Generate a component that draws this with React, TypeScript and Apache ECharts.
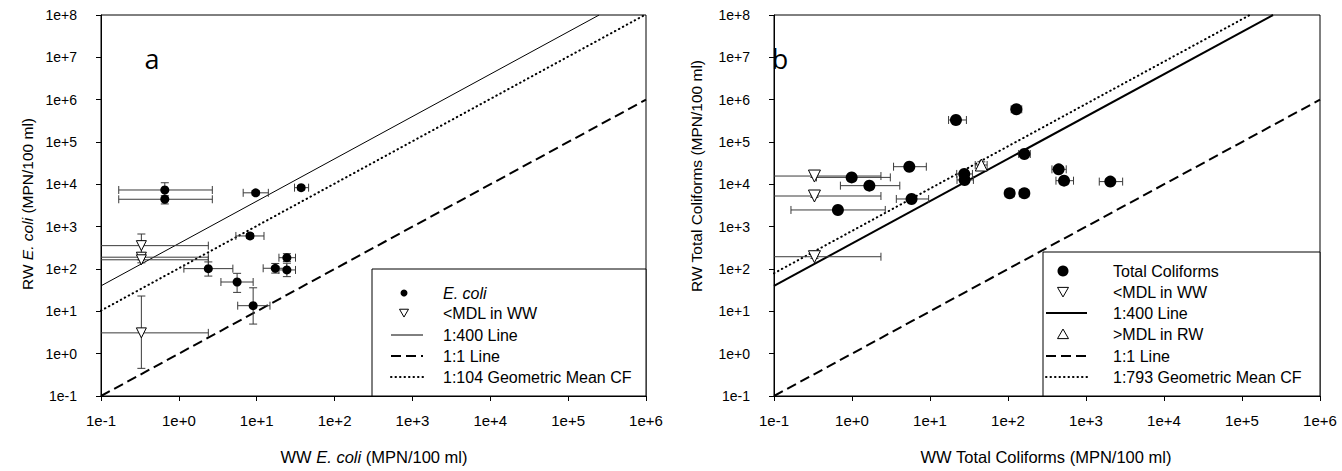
import { useEffect, useRef } from "react";
import * as echarts from "echarts";

// Axis ranges (log10 scale, one tick per decade)
const X_MIN = 0.1;
const X_MAX = 1e6;
const Y_MIN = 0.1;
const Y_MAX = 1e8;

// Rows: [WW, RW, WW low, WW high, RW low, RW high]  (MPN/100 ml)
const ecoliPoints: number[][] = [
  [0.66, 7350, 0.169, 2.69, 5000, 10900],
  [0.66, 4440, 0.169, 2.69, 3440, 5400],
  [9.7, 6300, 6.7, 14.1, 5600, 7000],
  [37.2, 8340, 30.6, 46.4, 7400, 9400],
  [8.2, 603, 5.4, 12.4, 530, 690],
  [2.39, 102, 1.16, 4.94, 68, 147],
  [5.6, 49.3, 3.47, 9.0, 28, 79],
  [9.0, 13.6, 5.7, 14.8, 5.0, 36],
  [17.3, 104, 12.1, 24.2, 80, 135],
  [24.4, 185, 19.3, 31.5, 150, 230],
  [24.4, 95, 19.3, 31.5, 66, 137],
];

const ecoliBelowMdl: number[][] = [
  [0.33, 356, 0.02, 2.39, 190, 671],
  [0.33, 190, 0.02, 2.39, 165, 215],
  [0.33, 165, 0.02, 2.39, 140, 190],
  [0.33, 3.1, 0.02, 2.39, 0.45, 23],
];

const tcPoints: number[][] = [
  [21.5, 331000, 17.3, 29.3, 300000, 365000],
  [128, 593000, 110, 150, 540000, 650000],
  [5.43, 26100, 3.41, 8.97, 23500, 29000],
  [0.99, 14600, 0.35, 3.1, 13200, 16200],
  [1.67, 9300, 0.71, 4.1, 8400, 10300],
  [5.8, 4510, 3.7, 9.6, 4100, 5000],
  [0.66, 2480, 0.165, 2.67, 2250, 2750],
  [162, 52100, 137, 193, 47000, 57500],
  [27.5, 17600, 22, 35, 16000, 19400],
  [27.8, 12700, 22.2, 36, 11500, 14000],
  [105, 6140, 92, 120, 5600, 6750],
  [162, 6140, 140, 185, 5600, 6750],
  [446, 22600, 366, 558, 20500, 24900],
  [523, 12200, 412, 692, 11000, 13400],
  [2050, 11600, 1480, 2950, 10500, 12800],
];

const tcBelowMdl: number[][] = [
  [0.33, 15700, 0.02, 2.35, 14500, 17000],
  [0.33, 5300, 0.02, 2.35, 4900, 5700],
  [0.33, 195, 0.02, 2.35, 178, 214],
];

const tcAboveMdl: number[][] = [[45.5, 28600, 38, 54, 24000, 34000]];

// RW : WW ratios of the reference lines
const ratioA = { r400: 400, r1: 1, gm: 104 };
const ratioB = { r400: 400, r1: 1, gm: 793 };

const legendA = ["E. coli", "<MDL in WW", "1:400 Line", "1:1 Line", "1:104 Geometric Mean CF"];
const legendB = [
  "Total Coliforms",
  "<MDL in WW",
  "1:400 Line",
  ">MDL in RW",
  "1:1 Line",
  "1:793 Geometric Mean CF",
];

const FONT = "Liberation Sans, Arial, sans-serif";

const refLine = (r: number) => {
  const x1 = Math.min(X_MAX, Y_MAX / r);
  return [
    [X_MIN, X_MIN * r],
    [x1, x1 * r],
  ];
};

const expLabel = (v: number) => {
  const e = Math.round(Math.log10(v));
  return e < 0 ? `1e${e}` : `1e+${e}`;
};

const errorBarRender = (params: any, api: any) => {
  const cs = params.coordSys;
  const x = api.value(0);
  const y = api.value(1);
  const c = api.coord([x, y]);
  const l = api.coord([api.value(2), y]);
  const r = api.coord([api.value(3), y]);
  const t = api.coord([x, api.value(5)]);
  const b = api.coord([x, api.value(4)]);
  const cap = 4;
  const style = { stroke: "#3a3a3a", lineWidth: 1 };
  const children: any[] = [];
  const left = Math.max(l[0], cs.x);
  const right = Math.min(r[0], cs.x + cs.width);
  children.push({ type: "line", shape: { x1: left, y1: c[1], x2: right, y2: c[1] }, style });
  if (l[0] >= cs.x) children.push({ type: "line", shape: { x1: l[0], y1: c[1] - cap, x2: l[0], y2: c[1] + cap }, style });
  if (r[0] <= cs.x + cs.width) children.push({ type: "line", shape: { x1: r[0], y1: c[1] - cap, x2: r[0], y2: c[1] + cap }, style });
  children.push({ type: "line", shape: { x1: c[0], y1: t[1], x2: c[0], y2: b[1] }, style });
  children.push({ type: "line", shape: { x1: c[0] - cap, y1: t[1], x2: c[0] + cap, y2: t[1] }, style });
  children.push({ type: "line", shape: { x1: c[0] - cap, y1: b[1], x2: c[0] + cap, y2: b[1] }, style });
  return { type: "group", children };
};

const makeAxis = (gridIndex: number, min: number, max: number, margin: number, fontSize: number) => ({
  type: "log",
  logBase: 10,
  gridIndex,
  min,
  max,
  interval: 1,
  axisLine: { show: true, lineStyle: { color: "#000", width: 1 } },
  axisTick: { show: true, inside: false, length: 5, lineStyle: { color: "#000" } },
  splitLine: { show: false },
  axisLabel: {
    show: true,
    color: "#000",
    fontFamily: FONT,
    fontSize,
    margin,
    formatter: expLabel,
  },
});

const dotted = { type: [0.5, 4] as any, width: 2, color: "#000", cap: "round" as const };
const dashed = { type: [10, 5] as any, width: 2, color: "#000" };

function buildLegend(
  box: { x: number; y: number; w: number; h: number },
  symX: number,
  lineX: [number, number],
  textX: number,
  rows: number[],
  labels: string[],
  kinds: string[],
  dotR: number,
  tri: number,
  solidW: number
) {
  const els: any[] = [
    {
      type: "rect",
      shape: { x: box.x, y: box.y, width: box.w, height: box.h },
      style: { fill: "#fff", stroke: "#000", lineWidth: 1 },
      z: 10,
    },
  ];
  kinds.forEach((k, i) => {
    const y = rows[i];
    if (k === "dot") {
      els.push({ type: "circle", shape: { cx: symX, cy: y, r: dotR }, style: { fill: "#000" }, z: 11 });
    } else if (k === "down") {
      els.push({
        type: "polygon",
        shape: { points: [[symX - tri / 2, y - tri * 0.42], [symX + tri / 2, y - tri * 0.42], [symX, y + tri * 0.45]] },
        style: { fill: "#fff", stroke: "#000", lineWidth: 1 },
        z: 11,
      });
    } else if (k === "up") {
      els.push({
        type: "polygon",
        shape: { points: [[symX - tri / 2, y + tri * 0.42], [symX + tri / 2, y + tri * 0.42], [symX, y - tri * 0.45]] },
        style: { fill: "#fff", stroke: "#000", lineWidth: 1 },
        z: 11,
      });
    } else {
      const style: any = { stroke: "#000", lineWidth: k === "solid" ? solidW : 2 };
      if (k === "dash") style.lineDash = [10, 5];
      if (k === "dot2") {
        style.lineDash = [0.5, 4];
        style.lineCap = "round";
      }
      els.push({ type: "line", shape: { x1: lineX[0], y1: y, x2: lineX[1], y2: y }, style, z: 11 });
    }
    const italic = labels[i] === "E. coli";
    els.push({
      type: "text",
      x: textX,
      y,
      style: {
        text: labels[i],
        fill: "#000",
        font: `${italic ? "italic " : ""}16px ${FONT}`,
        textVerticalAlign: "middle",
        textAlign: "left",
      },
      z: 11,
    });
  });
  return els;
}

export default function App() {
  const ref = useRef<HTMLDivElement>(null);

  useEffect(() => {
    if (!ref.current) return;
    const chart = echarts.init(ref.current, undefined, { renderer: "svg" });

    const gridA = { left: 101, top: 15, width: 545, height: 381 };
    const gridB = { left: 774, top: 15, width: 546, height: 381 };

    const richOf = (size: number) => ({
      n: { fontFamily: FONT, fontSize: size, fill: "#000", color: "#000" },
      i: { fontFamily: FONT, fontSize: size, fontStyle: "italic", fill: "#000", color: "#000" },
    });

    const option: any = {
      animation: false,
      backgroundColor: "#fff",
      grid: [
        { ...gridA, show: true, borderColor: "#000", borderWidth: 1 },
        { ...gridB, show: true, borderColor: "#000", borderWidth: 1 },
      ],
      xAxis: [makeAxis(0, X_MIN, X_MAX, 17, 15), makeAxis(1, X_MIN, X_MAX, 17, 15)],
      yAxis: [makeAxis(0, Y_MIN, Y_MAX, 24, 14), makeAxis(1, Y_MIN, Y_MAX, 24, 14)],
      series: [
        // Panel a reference lines
        { type: "line", xAxisIndex: 0, yAxisIndex: 0, data: refLine(ratioA.r400), symbol: "none", lineStyle: { color: "#000", width: 1 }, z: 1, clip: true },
        { type: "line", xAxisIndex: 0, yAxisIndex: 0, data: refLine(ratioA.r1), symbol: "none", lineStyle: dashed, z: 1, clip: true },
        { type: "line", xAxisIndex: 0, yAxisIndex: 0, data: refLine(ratioA.gm), symbol: "none", lineStyle: dotted, z: 1, clip: true },
        // Panel a error bars and markers
        { type: "custom", xAxisIndex: 0, yAxisIndex: 0, data: [...ecoliPoints, ...ecoliBelowMdl], renderItem: errorBarRender, z: 2 },
        { type: "scatter", xAxisIndex: 0, yAxisIndex: 0, data: ecoliPoints.map((p) => [p[0], p[1]]), symbol: "circle", symbolSize: 9, itemStyle: { color: "#000", opacity: 1 }, z: 3 },
        { type: "scatter", xAxisIndex: 0, yAxisIndex: 0, data: ecoliBelowMdl.map((p) => [p[0], p[1]]), symbol: "triangle", symbolRotate: 180, symbolSize: 10, itemStyle: { color: "#fff", borderColor: "#000", borderWidth: 1, opacity: 1 }, z: 4 },
        // Panel b reference lines
        { type: "line", xAxisIndex: 1, yAxisIndex: 1, data: refLine(ratioB.r400), symbol: "none", lineStyle: { color: "#000", width: 2 }, z: 1, clip: true },
        { type: "line", xAxisIndex: 1, yAxisIndex: 1, data: refLine(ratioB.r1), symbol: "none", lineStyle: dashed, z: 1, clip: true },
        { type: "line", xAxisIndex: 1, yAxisIndex: 1, data: refLine(ratioB.gm), symbol: "none", lineStyle: dotted, z: 1, clip: true },
        // Panel b error bars and markers
        { type: "custom", xAxisIndex: 1, yAxisIndex: 1, data: [...tcPoints, ...tcBelowMdl, ...tcAboveMdl], renderItem: errorBarRender, z: 2 },
        { type: "scatter", xAxisIndex: 1, yAxisIndex: 1, data: tcPoints.map((p) => [p[0], p[1]]), symbol: "circle", symbolSize: 12, itemStyle: { color: "#000", opacity: 1 }, z: 3 },
        { type: "scatter", xAxisIndex: 1, yAxisIndex: 1, data: tcBelowMdl.map((p) => [p[0], p[1]]), symbol: "triangle", symbolRotate: 180, symbolSize: 12, itemStyle: { color: "#fff", borderColor: "#000", borderWidth: 1, opacity: 1 }, z: 4 },
        { type: "scatter", xAxisIndex: 1, yAxisIndex: 1, data: tcAboveMdl.map((p) => [p[0], p[1]]), symbol: "triangle", symbolSize: 12, itemStyle: { color: "#fff", borderColor: "#000", borderWidth: 1, opacity: 1 }, z: 4 },
      ],
      graphic: [
        // Panel letters
        { type: "text", x: 152, y: 58, style: { text: "a", fill: "#000", font: "27px 'Open Sans', sans-serif", textAlign: "center", textVerticalAlign: "middle" } },
        { type: "text", x: 780, y: 58, style: { text: "b", fill: "#000", font: "27px 'Open Sans', sans-serif", textAlign: "center", textVerticalAlign: "middle" } },
        // Axis titles
        { type: "text", x: 374, y: 457, style: { text: "{n|WW }{i|E. coli}{n| (MPN/100 ml)}", rich: richOf(16.5), textAlign: "center", textVerticalAlign: "middle" } },
        { type: "text", x: 1046, y: 457, style: { text: "WW Total Coliforms (MPN/100 ml)", fill: "#000", font: `16.5px ${FONT}`, textAlign: "center", textVerticalAlign: "middle" } },
        { type: "text", x: 27, y: 204, rotation: Math.PI / 2, style: { text: "{n|RW }{i|E. coli}{n| (MPN/100 ml)}", rich: richOf(15.5), textAlign: "center", textVerticalAlign: "middle" } },
        { type: "text", x: 696, y: 176, rotation: Math.PI / 2, style: { text: "RW Total Coliforms (MPN/100 ml)", fill: "#000", font: `15.5px ${FONT}`, textAlign: "center", textVerticalAlign: "middle" } },
        // Legends
        ...buildLegend(
          { x: 372, y: 269, w: 274, h: 127 },
          404,
          [391, 423],
          443,
          [293, 313, 335, 356, 377],
          legendA,
          ["dot", "down", "solid", "dash", "dot2"],
          3.5,
          9,
          1
        ),
        ...buildLegend(
          { x: 1043, y: 252, w: 277, h: 144 },
          1063,
          [1046, 1087],
          1113,
          [271, 292, 313, 334, 356, 377],
          legendB,
          ["dot", "down", "solid", "up", "dash", "dot2"],
          5.5,
          11,
          2
        ),
      ],
    };

    chart.setOption(option);
    return () => chart.dispose();
  }, []);

  return (
    <div
      ref={ref}
      style={{ position: "fixed", left: 0, top: 0, width: 1342, height: 471, background: "#fff" }}
    />
  );
}
